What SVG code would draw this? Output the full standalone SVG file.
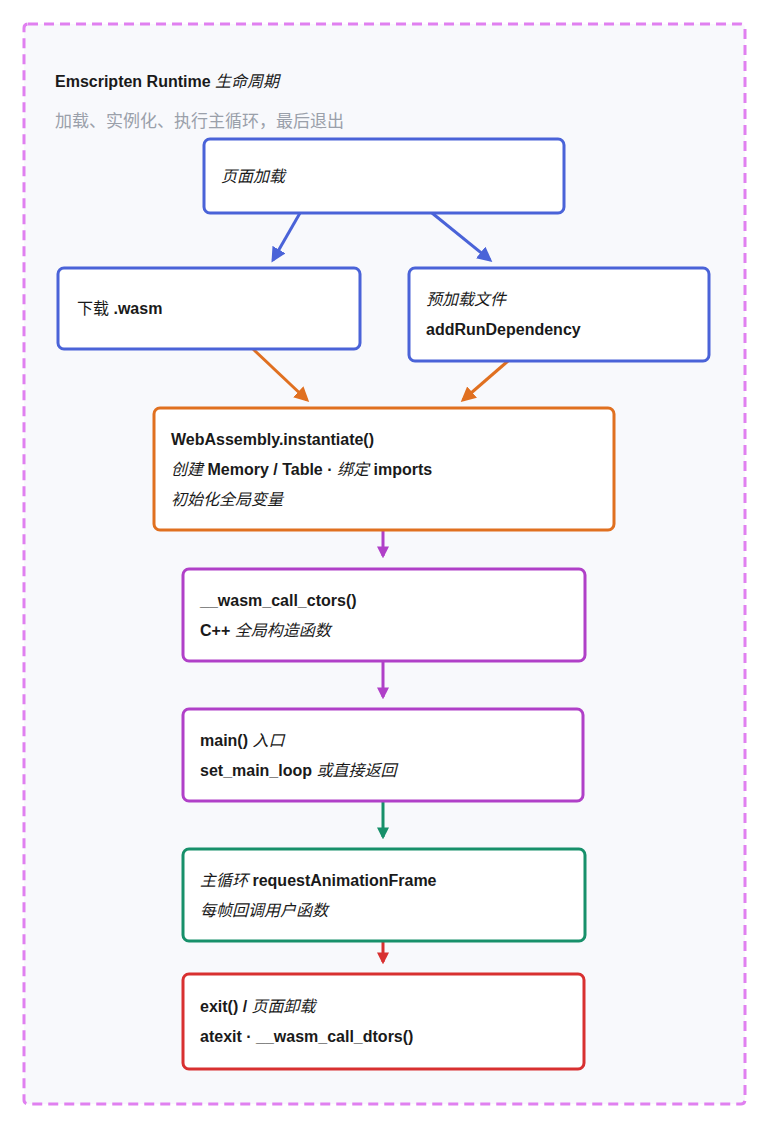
<svg xmlns="http://www.w3.org/2000/svg" width="768" height="1128" viewBox="0 0 768 1128">
<defs>
<style>
text{font-family:"Liberation Sans","Noto Sans CJK SC",sans-serif;font-size:16px;fill:#1a1a1a}
.b{font-weight:bold}
.i{font-style:italic}
.box{fill:#fff;stroke-width:3}
.c{stroke-width:3;fill:none}
</style>
<marker id="mb" viewBox="0 0 10 10" refX="8" refY="5" markerWidth="5" markerHeight="5" orient="auto"><path d="M0,0L10,5L0,10z" fill="#4a63d8"/></marker>
<marker id="mo" viewBox="0 0 10 10" refX="8" refY="5" markerWidth="5" markerHeight="5" orient="auto"><path d="M0,0L10,5L0,10z" fill="#e07020"/></marker>
<marker id="mp" viewBox="0 0 10 10" refX="8" refY="5" markerWidth="4" markerHeight="4" orient="auto"><path d="M0,0L10,5L0,10z" fill="#b040c8"/></marker>
<marker id="mg" viewBox="0 0 10 10" refX="8" refY="5" markerWidth="4" markerHeight="4" orient="auto"><path d="M0,0L10,5L0,10z" fill="#17906a"/></marker>
<marker id="mr" viewBox="0 0 10 10" refX="8" refY="5" markerWidth="4" markerHeight="4" orient="auto"><path d="M0,0L10,5L0,10z" fill="#d83030"/></marker>
</defs>
<rect width="768" height="1128" fill="#fff"/>
<rect x="24" y="24" width="721" height="1080" rx="4" fill="#f8f9fc" stroke="#e080f0" stroke-width="3" stroke-dasharray="10 6"/>
<text x="55" y="87" class="b" font-size="15">Emscripten Runtime <tspan class="i" font-weight="normal">生命周期</tspan></text>
<text x="55" y="127" style="fill:#9aa0aa;font-size:17px">加载、实例化、执行主循环，最后退出</text>
<g id="connectors">
<line x1="300" y1="213" x2="273" y2="260" stroke="#4a63d8" class="c" marker-end="url(#mb)"/>
<line x1="432" y1="213" x2="490" y2="260" stroke="#4a63d8" class="c" marker-end="url(#mb)"/>
<line x1="253" y1="349" x2="307" y2="400" stroke="#e07020" class="c" marker-end="url(#mo)"/>
<line x1="508" y1="361" x2="463" y2="400" stroke="#e07020" class="c" marker-end="url(#mo)"/>
<line x1="383" y1="531" x2="383" y2="556" stroke="#b040c8" class="c" marker-end="url(#mp)"/>
<line x1="383" y1="662" x2="383" y2="697" stroke="#b040c8" class="c" marker-end="url(#mp)"/>
<line x1="383" y1="802" x2="383" y2="837" stroke="#17906a" class="c" marker-end="url(#mg)"/>
<line x1="383" y1="942" x2="383" y2="962" stroke="#d83030" class="c" marker-end="url(#mr)"/>
</g>
<g id="n1"><rect class="box" x="204" y="139" width="360" height="74" rx="6" stroke="#4a63d8"/><text x="221" y="182" class="i">页面加载</text></g>
<g id="n2"><rect class="box" x="58" y="268" width="302" height="81" rx="6" stroke="#4a63d8"/><text x="77" y="314" class="b"><tspan font-weight="normal">下载</tspan> .wasm</text></g>
<g id="n3"><rect class="box" x="409" y="268" width="300" height="93" rx="6" stroke="#4a63d8"/><text x="426" y="305" class="i">预加载文件</text><text x="426" y="335" class="b">addRunDependency</text></g>
<g id="n4"><rect class="box" x="154" y="408" width="460" height="122" rx="6" stroke="#e07020"/><text x="171" y="445" class="b">WebAssembly.instantiate()</text><text x="171" y="475"><tspan class="i">创建</tspan> <tspan class="b">Memory / Table · </tspan><tspan class="i">绑定</tspan> <tspan class="b">imports</tspan></text><text x="171" y="505" class="i">初始化全局变量</text></g>
<g id="n5"><rect class="box" x="183" y="569" width="402" height="92" rx="6" stroke="#b040c8"/><text x="200" y="606" class="b">__wasm_call_ctors()</text><text x="200" y="636"><tspan class="b">C++</tspan> <tspan class="i">全局构造函数</tspan></text></g>
<g id="n6"><rect class="box" x="183" y="709" width="400" height="92" rx="6" stroke="#b040c8"/><text x="200" y="746"><tspan class="b">main()</tspan> <tspan class="i">入口</tspan></text><text x="200" y="776"><tspan class="b">set_main_loop</tspan> <tspan class="i">或直接返回</tspan></text></g>
<g id="n7"><rect class="box" x="183" y="849" width="402" height="92" rx="6" stroke="#17906a"/><text x="200" y="886"><tspan class="i">主循环</tspan> <tspan class="b">requestAnimationFrame</tspan></text><text x="200" y="916" class="i">每帧回调用户函数</text></g>
<g id="n8"><rect class="box" x="183" y="974" width="401" height="95" rx="6" stroke="#d83030"/><text x="200" y="1012"><tspan class="b">exit() / </tspan><tspan class="i">页面卸载</tspan></text><text x="200" y="1042" class="b">atexit · __wasm_call_dtors()</text></g>
</svg>
